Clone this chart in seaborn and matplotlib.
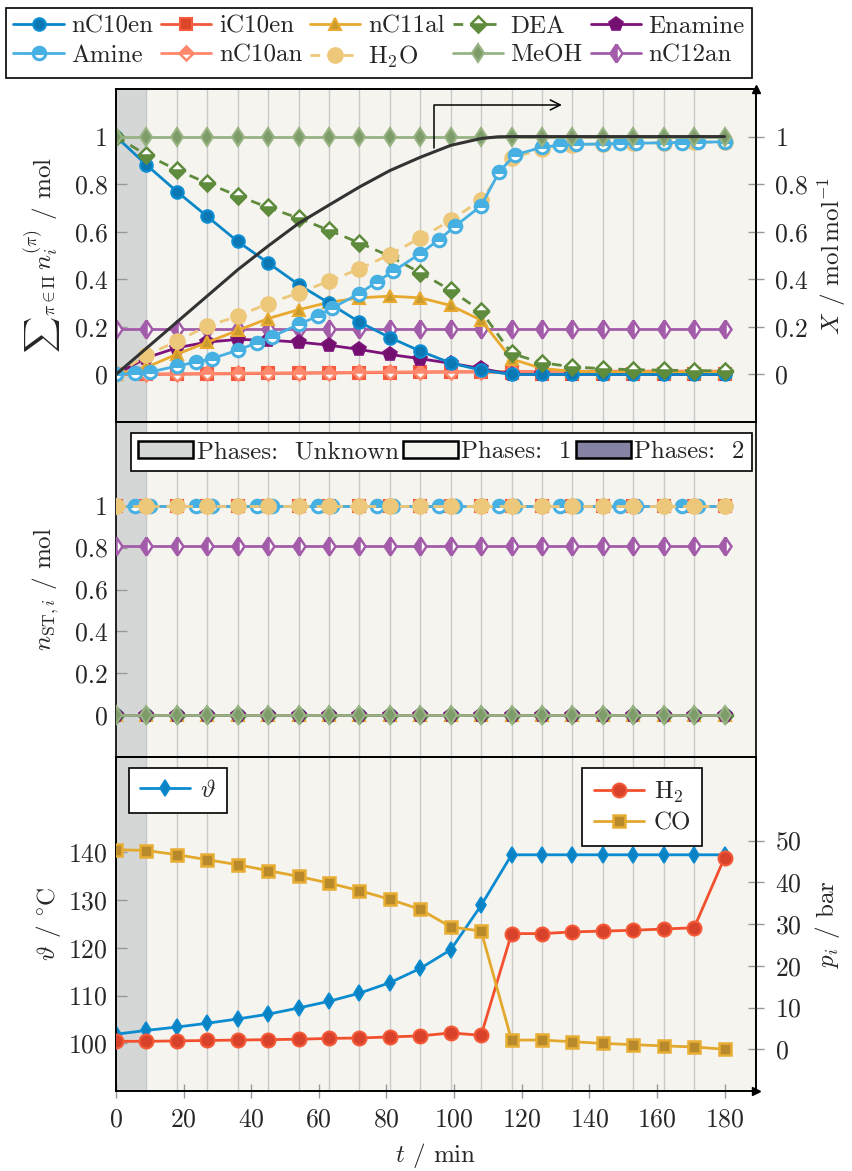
import matplotlib
matplotlib.use("Agg")
import matplotlib.pyplot as plt
from matplotlib.patches import Patch
import seaborn as sns

# ---------------------------------------------------------------- data
t = [0, 9, 18, 27, 36, 45, 54, 63, 72, 81, 90, 99, 108, 117, 126, 135, 144, 153, 162, 171, 180]
amine_t = [0, 5.7, 10, 18, 23.7, 28.3, 36, 41.7, 46, 54, 59.6, 64, 72, 77.2, 82, 90, 95.6, 100.2,
           108, 113.4, 118, 126, 131.4, 136, 144, 149.2, 153.8, 162, 167.5, 172, 180]

# summed amounts over phases / mol
nC10en = [1.0, 0.881, 0.769, 0.664, 0.559, 0.469, 0.378, 0.30, 0.22, 0.155, 0.098, 0.048, 0.018,
          0.0, 0.0, 0.0, 0.0, 0.0, 0.0, 0.0, 0.0]
iC10en = [0.0, 0.0, 0.001, 0.002, 0.003, 0.004, 0.005, 0.006, 0.007, 0.008, 0.009, 0.01, 0.01,
          0.008, 0.003, 0.002, 0.002, 0.001, 0.001, 0.001, 0.001]
nC11al = [0.0, 0.03, 0.085, 0.135, 0.185, 0.235, 0.272, 0.303, 0.322, 0.329, 0.322, 0.29, 0.228,
          0.065, 0.025, 0.013, 0.01, 0.01, 0.01, 0.01, 0.01]
DEA = [1.0, 0.923, 0.86, 0.804, 0.751, 0.702, 0.657, 0.606, 0.553, 0.497, 0.427, 0.354, 0.266,
       0.088, 0.049, 0.032, 0.024, 0.02, 0.018, 0.016, 0.015]
Enamine = [0.0, 0.07, 0.112, 0.136, 0.147, 0.144, 0.136, 0.123, 0.105, 0.084, 0.066, 0.047, 0.025,
           0.0, 0.0, 0.0, 0.0, 0.0, 0.0, 0.0, 0.0]
Amine = [0.0, 0.005, 0.01, 0.035, 0.052, 0.066, 0.102, 0.133, 0.158, 0.21, 0.245, 0.28, 0.34, 0.39,
         0.434, 0.508, 0.567, 0.622, 0.709, 0.853, 0.923, 0.955, 0.964, 0.967, 0.969, 0.971, 0.972,
         0.974, 0.975, 0.976, 0.978]
nC10an = [0.0, 0.002, 0.003, 0.004, 0.005, 0.006, 0.007, 0.008, 0.009, 0.01, 0.011, 0.012, 0.012,
          0.013, 0.013, 0.013, 0.014, 0.014, 0.014, 0.014, 0.014]
H2O = [0.0, 0.08, 0.14, 0.203, 0.245, 0.298, 0.343, 0.392, 0.444, 0.504, 0.574, 0.648, 0.734,
       0.909, 0.948, 0.965, 0.97, 0.972, 0.974, 0.976, 0.977]
MeOH = [1.0] * 21
nC12an = [0.19] * 21

# conversion X / mol mol^-1
X_t = [0, 9, 18, 27, 36, 45, 54, 63, 72, 81, 90, 99, 108, 113, 117, 126, 135, 144, 153, 162, 171, 180]
X = [0.0, 0.11, 0.22, 0.33, 0.44, 0.54, 0.635, 0.712, 0.788, 0.857, 0.913, 0.963, 0.992, 0.999,
     1.0, 1.0, 1.0, 1.0, 1.0, 1.0, 1.0, 1.0]

# stoichiometric amounts / mol
nST = {
    "nC10en": [0.0] * 21, "iC10en": [1.0] * 21, "nC11al": [0.0] * 21, "DEA": [0.0] * 21,
    "Enamine": [0.0] * 21, "nC10an": [1.0] * 21, "H2O": [1.0] * 21, "MeOH": [0.0] * 21,
    "nC12an": [0.81] * 21,
}
nST_amine = [1.0] * 31

# temperature / degC and partial pressures / bar
theta = [101.9, 102.7, 103.4, 104.2, 105.1, 106.1, 107.4, 108.8, 110.5, 112.7, 115.7, 119.6, 128.9,
         139.5, 139.5, 139.5, 139.5, 139.5, 139.5, 139.5, 139.5]
p_H2 = [1.9, 1.9, 2.0, 2.1, 2.2, 2.3, 2.4, 2.6, 2.7, 2.95, 3.2, 3.9, 3.35,
        27.7, 27.7, 28.1, 28.3, 28.5, 28.8, 29.1, 45.9]
p_CO = [47.8, 47.6, 46.6, 45.4, 44.2, 42.8, 41.4, 39.8, 38.0, 35.9, 33.5, 29.3, 28.3,
        2.2, 2.2, 1.8, 1.4, 1.1, 0.8, 0.55, 0.0]

phase_unknown_end = 9
t_max = 189.3

# ---------------------------------------------------------------- style
sns.set_theme(style="ticks")
plt.rcParams.update({
    "font.family": ["cmr10", "DejaVu Serif"],
    "mathtext.fontset": "cm",
    "axes.unicode_minus": False,
    "axes.formatter.use_mathtext": True,
    "font.size": 18,
    "axes.labelsize": 18,
    "xtick.labelsize": 18.5,
    "ytick.labelsize": 18.5,
    "legend.fontsize": 18,
    "axes.edgecolor": "black",
    "axes.linewidth": 1.2,
})

C_UNKNOWN = "#D5D6D6"
C_ONE = "#F5F4EE"
C_TWO = "#8583A3"
GRID = "#C9C9C9"
TICK = "#999999"

sty = {
    "nC10en": dict(color="#0B87C8", marker="o", markersize=9, markerfacecolor="#0B78B4",
                   markeredgecolor="#0B8ED2", markeredgewidth=1.5, linestyle="-"),
    "iC10en": dict(color="#F2583B", marker="s", markersize=8.5, markerfacecolor="#DB4628",
                   markeredgecolor="#F75A3E", markeredgewidth=1.5, linestyle="-"),
    "nC11al": dict(color="#E8A92E", marker="^", markersize=9, markerfacecolor="#C99A2C",
                   markeredgecolor="#E8AA30", markeredgewidth=1.5, linestyle="-"),
    "DEA": dict(color="#5F8B3C", marker="D", markersize=8, markerfacecolor="#5F8B3C",
                markerfacecoloralt="white", fillstyle="bottom",
                markeredgecolor="#5F8B3C", markeredgewidth=1.8, linestyle=(0, (3.5, 2.5))),
    "Enamine": dict(color="#7C127A", marker="p", markersize=10, markerfacecolor="#73106F",
                    markeredgecolor="#7C127A", markeredgewidth=1.2, linestyle="-"),
    "Amine": dict(color="#47B0E2", marker="o", markersize=9, markerfacecolor="#47B0E2",
                  markerfacecoloralt="white", fillstyle="top",
                  markeredgecolor="#47B0E2", markeredgewidth=2.2, linestyle="-"),
    "nC10an": dict(color="#FF876C", marker="D", markersize=7.5, markerfacecolor="#FF876C",
                   markerfacecoloralt="white", fillstyle="top",
                   markeredgecolor="#FF876C", markeredgewidth=1.8, linestyle="-"),
    "H2O": dict(color="#EDC77A", marker="o", markersize=11, markerfacecolor="#EDC77A",
                markeredgecolor="#EDC77A", markeredgewidth=1.0, linestyle=(0, (3.5, 2.5))),
    "MeOH": dict(color="#98B383", marker="d", markersize=9.5, markerfacecolor="#7E9C69",
                 markeredgecolor="#98B383", markeredgewidth=1.5, linestyle="-"),
    "nC12an": dict(color="#A35CA9", marker="d", markersize=9.5, markerfacecolor="#A35CA9",
                   markerfacecoloralt="white", fillstyle="left",
                   markeredgecolor="#A35CA9", markeredgewidth=1.8, linestyle="-"),
}
labels = {"nC10en": "nC10en", "iC10en": "iC10en", "nC11al": "nC11al", "DEA": "DEA",
          "Enamine": "Enamine", "Amine": "Amine", "nC10an": "nC10an",
          "H2O": r"H$_2$O", "MeOH": "MeOH", "nC12an": "nC12an"}


def draw(ax, x, y, style, lw=2.0, zorder=3):
    sns.lineplot(x=x, y=y, ax=ax, legend=False, lw=lw, zorder=zorder, **style)
    return ax.lines[-1]


def dress(ax):
    ax.axvspan(0, phase_unknown_end, color=C_UNKNOWN, lw=0, zorder=0)
    ax.axvspan(phase_unknown_end, t_max, color=C_ONE, lw=0, zorder=0)
    ax.set_xlim(0, t_max)
    ax.set_xticks(t, minor=True)
    ax.grid(which="minor", axis="x", color=GRID, lw=1.0, zorder=1)
    ax.grid(which="major", visible=False)
    ax.set_axisbelow(True)
    ax.tick_params(which="minor", length=0)
    ax.tick_params(axis="y", direction="in", length=8, width=1.0, color=TICK, pad=6)
    for s in ax.spines.values():
        s.set_color("black")
        s.set_linewidth(1.2)


# ---------------------------------------------------------------- layout
W, H = 853, 1171
fig = plt.figure(figsize=(W / 100, H / 100), dpi=100)
left = 116 / W
width = (756 - 116) / W


def panel(top_px, bot_px, **kw):
    return fig.add_axes([left, 1 - bot_px / H, width, (bot_px - top_px) / H], **kw)


ax1 = panel(89, 422)
ax2 = panel(422, 757, sharex=ax1)
ax3 = panel(757, 1091, sharex=ax1)
for ax in (ax1, ax2, ax3):
    dress(ax)
ax1.tick_params(axis="x", which="major", length=0, labelbottom=False)
ax2.tick_params(axis="x", which="major", length=0, labelbottom=False)

# ---------------------------------------------------------------- top panel
top_data = {"nC10en": nC10en, "iC10en": iC10en, "nC11al": nC11al, "DEA": DEA, "Enamine": Enamine,
            "nC10an": nC10an, "H2O": H2O, "MeOH": MeOH, "nC12an": nC12an}
handles = {}
draw_order = ["iC10en", "nC10an", "nC12an", "Enamine", "nC11al", "nC10en", "DEA", "H2O", "Amine", "MeOH"]
for k in draw_order:
    if k == "Amine":
        handles[k] = draw(ax1, amine_t, Amine, sty[k])
    else:
        handles[k] = draw(ax1, t, top_data[k], sty[k])

ax1.set_ylim(-0.2, 1.2)
yt = [0, 0.2, 0.4, 0.6, 0.8, 1.0]
ytl = ["0", "0.2", "0.4", "0.6", "0.8", "1"]
ax1.set_yticks(yt, ytl)
ax1.set_ylabel(r"${\sum}_{\pi\in\Pi}\, n_i^{(\pi)}$ / mol", labelpad=8)

ax1r = ax1.twinx()
ax1r.set_ylim(-0.2, 1.2)
ax1r.set_yticks(yt, ytl)
ax1r.tick_params(axis="y", direction="inout", length=12, width=1.0, color=TICK, pad=8)
ax1r.set_ylabel(r"$X$ / mol$\,$mol$^{-1}$", labelpad=6)
sns.lineplot(x=X_t, y=X, ax=ax1r, color="#333333", lw=2.2, legend=False, zorder=4)
ax1r.annotate("", xy=(131.9, 1.133), xytext=(94.2, 0.95),
              arrowprops=dict(arrowstyle="->", color="black", lw=1.1,
                              connectionstyle="angle,angleA=90,angleB=0,rad=0",
                              shrinkA=0, shrinkB=0))
ax1r.plot([1], [1], marker="^", color="black", markersize=6, transform=ax1r.transAxes,
          clip_on=False)

# legend above the top panel (row-major order arranged for column filling)
leg_order = ["nC10en", "Amine", "iC10en", "nC10an", "nC11al", "H2O", "DEA", "MeOH", "Enamine", "nC12an"]
leg = fig.legend([handles[k] for k in leg_order], [labels[k] for k in leg_order],
                 ncol=5, loc="lower left", bbox_to_anchor=(6 / W, 1 - 78 / H, 746 / W, 76 / H),
                 mode="expand", borderaxespad=0, frameon=True, fancybox=False, framealpha=1,
                 edgecolor="black", handlelength=2.0, handletextpad=0.3, columnspacing=0.2,
                 borderpad=0.3, labelspacing=0.25)
leg.get_frame().set_linewidth(1.2)

# ---------------------------------------------------------------- middle panel
for k in ["nC10en", "nC11al", "DEA", "Enamine", "MeOH", "iC10en", "nC10an", "nC12an"]:
    draw(ax2, t, nST[k], sty[k])
draw(ax2, amine_t, nST_amine, sty["Amine"])
draw(ax2, t, nST["H2O"], sty["H2O"])
ax2.set_ylim(-0.2, 1.4)
ax2.set_yticks(yt, ytl)
ax2.set_ylabel(r"$n_{\mathrm{ST},i}$ / mol", labelpad=10)
phase_handles = [Patch(facecolor=C_UNKNOWN, edgecolor="black", lw=1.8),
                 Patch(facecolor=C_ONE, edgecolor="black", lw=1.8),
                 Patch(facecolor=C_TWO, edgecolor="black", lw=1.8)]
leg2 = ax2.legend(phase_handles, ["Phases:  Unknown", "Phases:  1", "Phases:  2"], ncol=3,
                  loc="upper right", bbox_to_anchor=(0.994, 0.967), borderaxespad=0,
                  frameon=True, fancybox=False, framealpha=1, edgecolor="black",
                  handlelength=2.2, handleheight=0.7, handletextpad=0.15, columnspacing=0.15,
                  borderpad=0.3)
leg2.get_frame().set_linewidth(1.2)

# ---------------------------------------------------------------- bottom panel
h_theta = draw(ax3, t, theta, dict(color="#0B8BD0", marker="d", markersize=8.5,
                                   markerfacecolor="#0B82C4", markeredgecolor="#0B8BD0",
                                   markeredgewidth=1.2, linestyle="-"))
ax3.set_ylim(90, 160)
ax3.set_yticks([100, 110, 120, 130, 140])
ax3.set_ylabel(r"$\vartheta$ / $^{\circ}$C", labelpad=4)
ax3.set_xticks(range(0, 181, 20))
ax3.tick_params(axis="x", which="major", direction="inout", length=10, width=1.0, color=TICK, pad=7)
ax3.set_xlabel(r"$t$ / min", labelpad=7)
ax3.plot([1], [0], marker=">", color="black", markersize=6, transform=ax3.transAxes, clip_on=False)

ax3r = ax3.twinx()
h_H2 = draw(ax3r, t, p_H2, dict(color="#F2502E", marker="o", markersize=10,
                                markerfacecolor="#D8412A", markeredgecolor="#F55A38",
                                markeredgewidth=1.5, linestyle="-"))
h_CO = draw(ax3r, t, p_CO, dict(color="#E3A92F", marker="s", markersize=9,
                                markerfacecolor="#B98A2B", markeredgecolor="#E8AE33",
                                markeredgewidth=1.8, linestyle="-"))
ax3r.set_ylim(-10, 70)
ax3r.set_yticks([0, 10, 20, 30, 40, 50])
ax3r.tick_params(axis="y", direction="inout", length=12, width=1.0, color=TICK, pad=8)
ax3r.set_ylabel(r"$p_i$ / bar", labelpad=8)
for s in ax3r.spines.values():
    s.set_color("black")
    s.set_linewidth(1.2)

lg_t = ax3.legend([h_theta], [r"$\vartheta$"], loc="upper left", bbox_to_anchor=(0.02, 0.967),
                  borderaxespad=0, frameon=True, fancybox=False, framealpha=1, edgecolor="black",
                  handlelength=2.0, handletextpad=0.4, borderpad=0.45)
lg_t.get_frame().set_linewidth(1.2)
lg_p = ax3r.legend([h_H2, h_CO], [r"H$_2$", "CO"], loc="upper right", bbox_to_anchor=(0.916, 0.967),
                   borderaxespad=0, frameon=True, fancybox=False, framealpha=1, edgecolor="black",
                   handlelength=2.0, handletextpad=0.4, borderpad=0.45, labelspacing=0.3)
lg_p.get_frame().set_linewidth(1.2)

fig.savefig("out.png", dpi=100)
